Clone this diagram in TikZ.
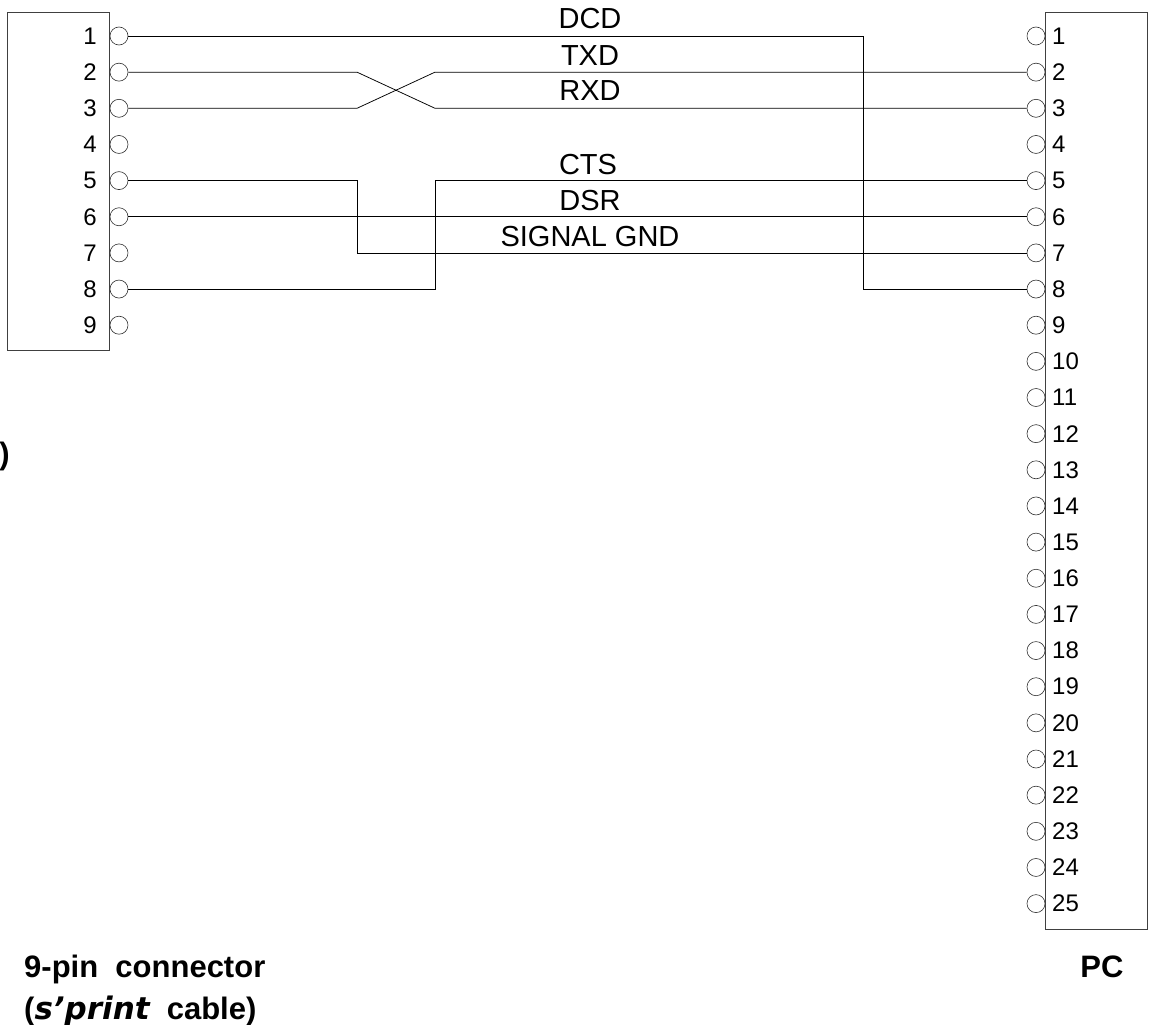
\documentclass[tikz,border=0pt]{standalone}
\usepackage{fontspec}
\setmainfont{Liberation Sans}
\newfontfamily\widefont{DejaVu Sans}
\usetikzlibrary{positioning}

\tikzset{
  pin/.style={circle, draw=black!80, line width=0.6pt, inner sep=0pt, minimum size=18pt},
  pinno/.style={font=\fontsize{24}{24}\selectfont, inner sep=0pt},
  sig/.style={font=\fontsize{29}{29}\selectfont, inner sep=0pt},
  wire/.style={line width=0.75pt},
  plug/.style={draw=black!75, line width=0.9pt},
  caption/.style={font=\bfseries\fontsize{31}{31}\selectfont, inner sep=0pt},
}

\begin{document}
\begin{tikzpicture}[x=1pt, y=-1pt]
  \useasboundingbox (0,0) rectangle (1151,1025);

  % the two connector bodies
  \draw[plug] (7,12) rectangle (109,350);
  \draw[plug] (1045,12) rectangle (1147,929);

  % pins
  \foreach \i in {1,...,9} {
    \pgfmathsetmacro\py{36+36.15*(\i-1)}
    \node[pin] (l\i) at (119,\py) {};
    \node[pinno, anchor=east] (ln\i) at (97,\py) {\i};
  }
  \foreach \i in {1,...,25} {
    \pgfmathsetmacro\py{36+36.15*(\i-1)}
    \node[pin] (r\i) at (1036,\py) {};
    \node[pinno, anchor=west] (rn\i) at (1052,\py) {\i};
  }

  % bends
  \coordinate (bendA) at (357,0);
  \coordinate (bendB) at (435,0);
  \coordinate (bendC) at (863,0);

  % wires
  \draw[wire] (l1.east) -- (l1.east -| bendC) |- (r8.west);
  \draw[wire] (l2.east) -- (l2.east -| bendA) -- (l3.east -| bendB) -- (r3.west);
  \draw[wire] (l3.east) -- (l3.east -| bendA) -- (l2.east -| bendB) -- (r2.west);
  \draw[wire] (l5.east) -- (l5.east -| bendA) |- (r7.west);
  \draw[wire] (l6.east) -- (r6.west);
  \draw[wire] (l8.east) -- (l8.east -| bendB) |- (r5.west);

  % signal names
  \node[sig] (dcd) at (590,19) {DCD};
  \node[sig] (txd) at (590,56) {TXD};
  \node[sig] (rxd) at (590,91) {RXD};
  \node[sig] (cts) at (588,165) {CTS};
  \node[sig] (dsr) at (590,201) {DSR};
  \node[sig] (gnd) at (590,237) {SIGNAL GND};

  % captions
  \node[caption, anchor=base east] (paren) at (10,464) {)};
  \node[caption, anchor=base west] (ninepin) at (24,977) {9-pin\ \ connector};
  \node[caption, anchor=base west] (cable) at (24,1019) {({\widefont\bfseries\itshape s’print}\hspace{0.55em}cable)};
  \node[caption, anchor=base] (pc) at (1102,977) {PC};
\end{tikzpicture}
\end{document}
